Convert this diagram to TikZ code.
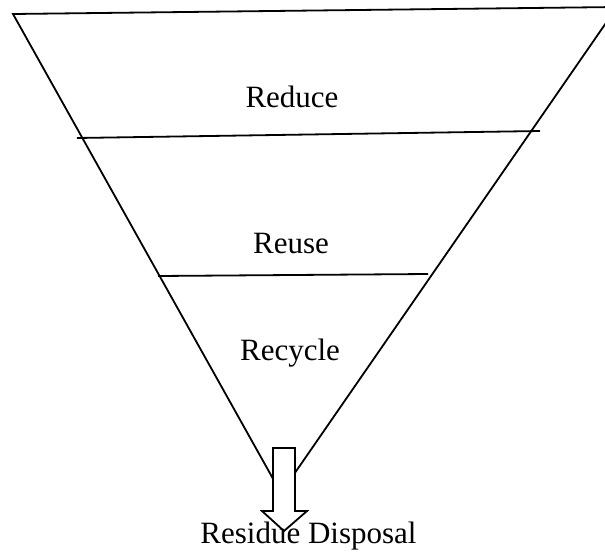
\documentclass[tikz,border=0pt]{standalone}
\usepackage{fontspec}
\setmainfont{Liberation Serif}
\begin{document}
\begin{tikzpicture}[x=1pt,y=-1pt,
  edge/.style={line width=1.8pt,black},
  lbl/.style={anchor=base,inner sep=0pt,font=\fontsize{31}{37}\selectfont,text=black},
  arrowbox/.style={line width=1.8pt,draw=black,fill=white,line join=miter}]
\useasboundingbox (0,0) rectangle (605,554);
% funnel vertices
\coordinate (tl) at (13,14);
\coordinate (tr) at (617,7);
\coordinate (apex) at (281,493);
\draw[edge,line join=miter] (tl) -- (tr) -- (apex) -- cycle;
% level dividers
\coordinate (d1a) at (77,138);
\coordinate (d1b) at (540,131);
\coordinate (d2a) at (158,276);
\coordinate (d2b) at (428,274);
\draw[edge] (d1a) -- (d1b);
\draw[edge] (d2a) -- (d2b);
% labels
\node[lbl] (reduce) at (292,107) {Reduce};
\node[lbl] (reuse) at (291,253) {Reuse};
\node[lbl] (recycle) at (290,360) {Recycle};
% down arrow
\draw[arrowbox] (273,448) -- (295,448) -- (295,511) -- (307,511) -- (284,531) -- (262,511) -- (273,511) -- cycle;
\node[lbl] (residue) at (308.5,543) {Residue Disposal};
\end{tikzpicture}
\end{document}
